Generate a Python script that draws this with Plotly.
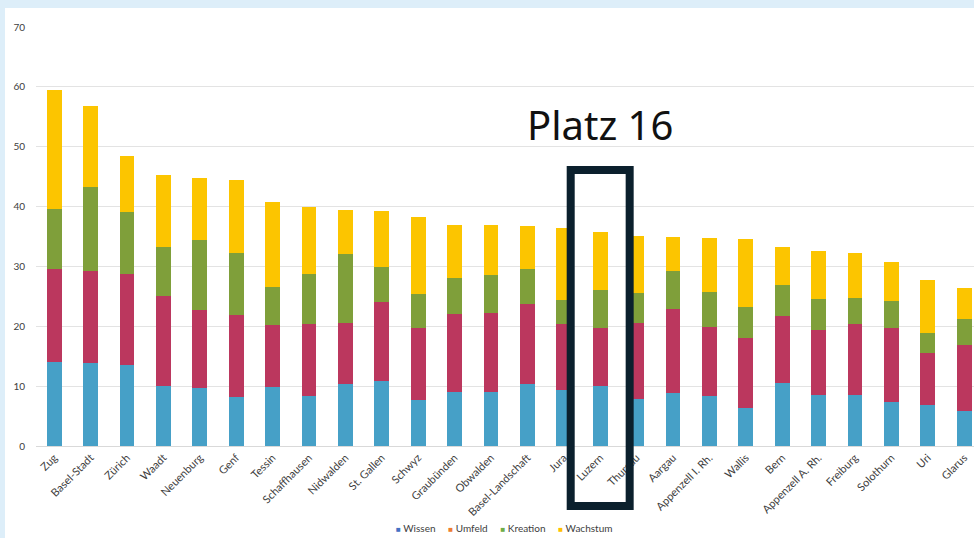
import plotly.graph_objects as go

cantons = ["Zug", "Basel-Stadt", "Zürich", "Waadt", "Neuenburg", "Genf", "Tessin",
           "Schaffhausen", "Nidwalden", "St. Gallen", "Schwyz", "Graubünden", "Obwalden",
           "Basel-Landschaft", "Jura", "Luzern", "Thurgau", "Aargau", "Appenzell I. Rh.",
           "Wallis", "Bern", "Appenzell A. Rh.", "Freiburg", "Solothurn", "Uri", "Glarus"]

wissen = [14.1, 13.9, 13.6, 10.0, 9.7, 8.2, 9.9, 8.4, 10.3, 10.9, 7.7, 9.0, 9.0,
          10.4, 9.4, 10.0, 7.9, 8.9, 8.3, 6.3, 10.6, 8.6, 8.5, 7.3, 6.8, 5.8]
umfeld = [15.5, 15.3, 15.2, 15.0, 13.0, 13.7, 10.3, 11.9, 10.3, 13.2, 12.0, 13.1, 13.2,
          13.3, 10.9, 9.7, 12.7, 14.0, 11.5, 11.7, 11.1, 10.7, 11.8, 12.4, 8.7, 11.0]
kreation = [10.0, 14.0, 10.3, 8.3, 11.7, 10.3, 6.3, 8.4, 11.5, 5.8, 5.7, 5.9, 6.4,
            5.9, 4.1, 6.4, 5.0, 6.3, 5.9, 5.3, 5.2, 5.2, 4.5, 4.6, 3.4, 4.4]
wachstum = [19.9, 13.6, 9.3, 12.0, 10.3, 12.3, 14.3, 11.2, 7.4, 9.3, 12.9, 9.0, 8.4,
            7.1, 12.0, 9.6, 9.5, 5.8, 9.1, 11.2, 6.3, 8.1, 7.4, 6.4, 8.9, 5.2]

series_names = ["Wissen", "Umfeld", "Kreation", "Wachstum"]
series_values = [wissen, umfeld, kreation, wachstum]
bar_colors = ["#46a0c7", "#bb375e", "#7f9f3a", "#fcc500"]
legend_colors = ["#4472c4", "#ed7d31", "#70ad47", "#ffc000"]

highlight = "Luzern"
highlight_text = "Platz 16"

fig = go.Figure()
for name, vals, col in zip(series_names, series_values, bar_colors):
    fig.add_trace(go.Bar(x=list(range(len(cantons))), y=vals, name=name,
                         marker=dict(color=col, line=dict(width=0)),
                         showlegend=False))

W, H = 974, 538
ml, mt, mb = 36, 27, 92
plot_h = H - mt - mb

def py(pix):
    return (H - mb - pix) / plot_h

def px(pix):
    return (pix - ml) / (W - ml)

fig.add_shape(type="rect", xref="paper", yref="paper",
              x0=px(5), x1=1.0, y0=py(H), y1=py(8),
              fillcolor="white", line=dict(width=0), layer="below")

hi = cantons.index(highlight)
fig.add_shape(type="rect", xref="x", yref="paper",
              x0=hi - 0.81, x1=hi + 0.81, y0=py(506), y1=py(170),
              line=dict(color="#0b202d", width=8), fillcolor="rgba(0,0,0,0)")
fig.add_annotation(x=hi, xref="x", y=py(125), yref="paper", text=highlight_text,
                   showarrow=False, font=dict(family="Noto Sans", size=40, color="#111111"),
                   yanchor="middle")

legend_parts = []
for name, col in zip(series_names, legend_colors):
    legend_parts.append(f"<span style='color:{col};font-size:8px'>■</span>&nbsp;{name}")
legend_text = "&nbsp;&nbsp;&nbsp;&nbsp;&nbsp;".join(legend_parts)
fig.add_annotation(x=px(504), xref="paper", y=py(528), yref="paper", text=legend_text,
                   showarrow=False, xanchor="center", yanchor="middle",
                   font=dict(family="Lato, Noto Sans", size=10, color="#404040"))

fig.update_layout(
    width=W, height=H,
    margin=dict(l=ml, r=0, t=mt, b=mb),
    barmode="stack", bargap=0.59,
    paper_bgcolor="#ddeef9", plot_bgcolor="white",
    font=dict(family="Lato, Noto Sans", size=10, color="#595959"),
    xaxis=dict(tickmode="array", tickvals=list(range(len(cantons))), ticktext=cantons,
               tickangle=-45, range=[-0.5, 25.27], showgrid=False, ticks="",
               tickfont=dict(size=11, color="#404040"), showline=True,
               linecolor="#d9d9d9", linewidth=1),
    yaxis=dict(range=[0, 70], dtick=10, showgrid=True, gridcolor="#e3e3e3",
               gridwidth=1, zeroline=False, ticks="", ticklabelstandoff=10,
               tickfont=dict(size=10, color="#404040")),
    showlegend=False,
)

fig.write_html("out.html", config={"displayModeBar": False},
               post_script="document.body.style.margin='0px';document.body.style.overflow='hidden';")
